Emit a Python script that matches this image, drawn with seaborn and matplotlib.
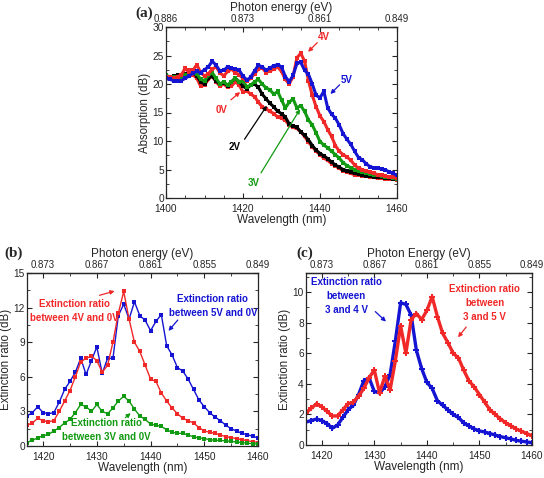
import numpy as np
import pandas as pd
import matplotlib
matplotlib.use("Agg")
import matplotlib.pyplot as plt
from matplotlib.ticker import MultipleLocator
import seaborn as sns

# ---------------- data ----------------
# (a) absorption spectra, 1400-1460 nm, 1 nm steps
wl_a = list(range(1400, 1461))
abs_0v = [21.0, 20.8, 21.0, 21.2, 21.0, 21.2, 22.4, 21.6, 21.0, 19.6,
          19.8, 20.8, 21.4, 20.4, 19.6, 20.0, 19.4, 19.6, 20.4, 19.8,
          18.6, 18.8, 18.2, 17.8, 16.8, 16.0, 15.6, 15.2, 14.8, 14.2,
          14.0, 13.6, 12.8, 12.4, 12.2, 11.6, 10.8, 9.8, 9.0, 8.2,
          7.6, 7.0, 6.6, 6.0, 5.6, 5.2, 4.8, 4.5, 4.3, 4.1,
          4.0, 3.9, 3.8, 3.7, 3.6, 3.5, 3.5, 3.4, 3.3, 3.3, 3.2]
abs_2v = [21.0, 21.2, 21.4, 21.5, 21.4, 21.8, 22.0, 22.0, 21.4, 20.4,
          20.0, 21.0, 21.4, 20.5, 20.0, 20.2, 19.7, 20.4, 21.0, 20.4,
          19.6, 19.2, 19.8, 20.0, 19.4, 18.2, 17.4, 16.6, 16.0, 15.2,
          14.8, 14.2, 13.0, 12.6, 12.4, 11.6, 11.0, 10.2, 9.2, 8.4,
          7.8, 7.4, 6.9, 6.3, 5.8, 5.4, 5.0, 4.8, 4.5, 4.3,
          4.2, 4.0, 3.9, 3.8, 3.7, 3.7, 3.6, 3.5, 3.5, 3.4, 3.4]
abs_3v = [21.5, 21.3, 21.2, 21.0, 21.2, 21.5, 21.8, 22.2, 21.8, 20.8,
          20.6, 21.5, 22.0, 21.0, 20.0, 20.4, 19.8, 20.4, 21.0, 20.4,
          20.6, 19.5, 19.8, 20.4, 20.8, 20.0, 19.3, 19.0, 18.2, 18.7,
          17.2, 15.8, 16.8, 17.4, 15.8, 16.2, 15.2, 13.7, 12.8, 11.4,
          9.9, 9.3, 8.8, 8.2, 7.6, 7.0, 6.2, 5.7, 5.3, 5.0,
          4.8, 4.6, 4.4, 4.2, 4.1, 4.0, 3.8, 3.7, 3.6, 3.5, 3.4]
abs_4v = [21.3, 21.2, 21.0, 21.3, 21.6, 22.8, 22.0, 22.4, 23.4, 22.0,
          21.4, 21.8, 22.6, 23.0, 22.0, 21.4, 22.2, 22.6, 22.0, 21.6,
          21.0, 20.5, 21.0, 21.8, 22.6, 22.8, 22.0, 22.3, 22.6, 23.0,
          22.2, 20.8, 20.0, 21.3, 24.6, 25.4, 24.0, 20.6, 18.0, 16.0,
          14.4, 13.4, 12.0, 10.8, 9.2, 8.2, 7.6, 7.2, 6.6, 5.8,
          5.2, 5.0, 4.7, 4.5, 4.3, 4.1, 4.0, 3.8, 3.7, 3.6, 3.5]
abs_5v = [21.0, 20.8, 20.6, 20.5, 20.6, 21.0, 21.4, 21.9, 22.2, 22.0,
          22.5, 23.0, 24.0, 23.3, 22.3, 22.4, 23.0, 22.8, 22.6, 22.4,
          21.4, 20.7, 21.2, 22.3, 23.3, 23.0, 22.4, 22.8, 23.2, 23.4,
          23.0, 21.3, 20.4, 21.5, 23.6, 23.8, 22.4, 21.7, 20.0, 18.0,
          17.6, 18.7, 15.8, 14.7, 14.0, 12.8, 11.3, 10.3, 9.4, 8.2,
          7.1, 6.7, 6.0, 5.5, 5.3, 5.2, 5.1, 4.9, 4.6, 4.3, 4.0]

# (b) and (c) extinction ratios, 1417-1460 nm, 1 nm steps
wl_bc = list(range(1417, 1461))
er_5v0v = [2.6, 2.9, 3.4, 2.9, 2.8, 2.9, 3.8, 4.9, 5.6, 6.4,
           7.6, 6.2, 7.4, 8.6, 6.3, 7.6, 7.6, 11.3, 12.3, 11.0,
           12.5, 11.3, 10.9, 10.0, 10.8, 11.4, 8.7, 7.9, 6.8, 6.5,
           5.8, 4.9, 4.0, 3.4, 2.9, 2.5, 2.2, 1.8, 1.5, 1.3,
           1.1, 0.98, 0.85, 0.7]
er_4v0v = [1.8, 2.0, 2.4, 2.2, 2.1, 2.2, 3.0, 3.9, 4.8, 6.0,
           7.3, 7.6, 7.8, 7.4, 6.4, 7.0, 9.0, 11.5, 13.4, 11.0,
           9.0, 8.2, 7.0, 5.8, 5.6, 4.6, 3.9, 3.3, 2.8, 2.4,
           2.2, 2.0, 1.6, 1.3, 1.2, 1.1, 0.95, 0.82, 0.72, 0.65,
           0.55, 0.45, 0.38, 0.3]
er_3v0v = [0.3, 0.5, 0.7, 0.9, 1.0, 1.3, 1.6, 2.0, 2.3, 2.9,
           3.6, 3.4, 3.0, 3.6, 3.0, 2.8, 3.3, 3.9, 4.3, 3.9,
           3.2, 2.6, 2.3, 1.9, 1.8, 1.7, 1.4, 1.2, 1.1, 1.1,
           0.95, 0.8, 0.7, 0.65, 0.55, 0.5, 0.48, 0.45, 0.4, 0.35,
           0.3, 0.25, 0.2, 0.17]
er_3v4v = [1.5, 1.6, 1.7, 1.6, 1.4, 1.1, 1.3, 1.8, 2.3, 2.6,
           3.3, 4.2, 4.4, 3.5, 3.4, 3.8, 4.6, 6.8, 9.3, 9.2,
           8.5, 6.2, 5.0, 4.1, 3.7, 2.9, 2.6, 2.3, 2.0, 1.8,
           1.45, 1.25, 1.05, 0.92, 0.85, 0.75, 0.65, 0.55, 0.47, 0.4,
           0.3, 0.25, 0.2, 0.15]
er_3v5v = [2.1, 2.4, 2.7, 2.5, 2.2, 1.9, 1.9, 2.3, 2.7, 2.8,
           3.2, 3.7, 4.4, 4.9, 3.4, 4.5, 3.6, 5.5, 7.8, 6.0,
           8.2, 8.6, 8.2, 8.8, 9.7, 8.4, 7.3, 6.7, 6.0, 5.7,
           4.9, 4.2, 3.8, 3.3, 2.8, 2.3, 2.0, 1.7, 1.45, 1.25,
           1.05, 0.9, 0.75, 0.6]

# photon energy tick labels for the top axes
top_wl_a = [1400, 1420, 1440, 1460]
top_lab_a = ["0.886", "0.873", "0.861", "0.849"]
top_wl_bc = [1420, 1430, 1440, 1450, 1460]
top_lab_bc = ["0.873", "0.867", "0.861", "0.855", "0.849"]

RED = "#f02828"
BLUE = "#1414d2"
GREEN = "#129a12"
BLACK = "#000000"

sns.set_style("ticks")
plt.rcParams["font.family"] = ["Liberation Sans", "DejaVu Sans"]
plt.rcParams["xtick.direction"] = "in"
plt.rcParams["ytick.direction"] = "in"
plt.rcParams["xtick.major.size"] = 3.5
plt.rcParams["ytick.major.size"] = 3.5
plt.rcParams["xtick.minor.size"] = 2
plt.rcParams["ytick.minor.size"] = 2
plt.rcParams["axes.linewidth"] = 0.9

W, H = 544, 478
fig = plt.figure(figsize=(W / 100, H / 100), dpi=100)


def px_axes(left, top, right, bottom):
    return fig.add_axes([left / W, 1 - bottom / H, (right - left) / W, (bottom - top) / H])


def style_axes(ax, top_pos, top_lab, top_title, xmin, xmax, ymax, ymajor, xminor, ylabel):
    ax.set_xlim(xmin, xmax)
    ax.set_ylim(0, ymax)
    ax.yaxis.set_major_locator(MultipleLocator(ymajor))
    ax.yaxis.set_minor_locator(MultipleLocator(ymajor / 2))
    ax.xaxis.set_minor_locator(MultipleLocator(xminor))
    ax.tick_params(which="both", right=True, labelsize=7.3)
    ax.tick_params(axis="x", pad=4)
    ax.tick_params(axis="y", pad=1.5)
    ax.set_xlabel("Wavelength (nm)", fontsize=8.5, labelpad=0.5)
    ax.set_ylabel(ylabel, fontsize=8.3, labelpad=1)
    sec = ax.secondary_xaxis("top")
    sec.set_xticks(top_pos)
    sec.set_xticklabels(top_lab)
    sec.xaxis.set_minor_locator(MultipleLocator(xminor))
    sec.tick_params(which="both", direction="in", labelsize=7.0, pad=2.5)
    sec.set_xlabel(top_title, fontsize=8.5, labelpad=1.5)
    for s in ax.spines.values():
        s.set_visible(True)


def draw(ax, x, y, color, lw, marker, ms):
    df = pd.DataFrame({"wl": x, "val": y})
    sns.lineplot(data=df, x="wl", y="val", ax=ax, color=color, lw=lw,
                 marker=marker, markersize=ms, markeredgewidth=0, legend=False)


def note(ax, text, color, txy, tail, head, fs=7):
    ax.text(txy[0], txy[1], text, color=color, fontsize=fs, fontweight="bold",
            ha="center", va="center", linespacing=1.5)
    ax.annotate("", xy=head, xytext=tail,
                arrowprops=dict(arrowstyle="-|>", color=color, lw=0.9, mutation_scale=6))


# ---------------- (a) ----------------
ax_a = px_axes(166, 27, 397, 198)
for ys, col in [(abs_0v, RED), (abs_2v, BLACK), (abs_3v, GREEN), (abs_4v, RED), (abs_5v, BLUE)]:
    draw(ax_a, wl_a, ys, col, 2.2, "s", 2.8)
style_axes(ax_a, top_wl_a, top_lab_a, "Photon energy (eV)", 1400, 1460, 30, 5, 5, "Absorption (dB)")
ax_a.xaxis.set_major_locator(MultipleLocator(20))
note(ax_a, "4V", RED, (1441.0, 28.2), (1439.8, 27.6), (1436.4, 25.3))
note(ax_a, "5V", BLUE, (1447.0, 20.7), (1445.6, 20.2), (1442.2, 17.9))
note(ax_a, "0V", RED, (1414.5, 15.4), (1416.3, 16.9), (1419.8, 18.9))
note(ax_a, "2V", BLACK, (1417.9, 9.0), (1420.0, 9.9), (1426.6, 16.6))
note(ax_a, "3V", GREEN, (1422.7, 2.7), (1424.3, 4.0), (1435.2, 16.0))

# ---------------- (b) ----------------
ax_b = px_axes(27, 273, 258, 446)
for ys, col in [(er_5v0v, BLUE), (er_4v0v, RED), (er_3v0v, GREEN)]:
    draw(ax_b, wl_bc, ys, col, 1.0, "s", 2.4)
style_axes(ax_b, top_wl_bc, top_lab_bc, "Photon energy (eV)", 1417, 1460, 15, 3, 5, "Extinction ratio (dB)")
ax_b.xaxis.set_major_locator(MultipleLocator(10))
note(ax_b, "Extinction ratio\nbetween 4V and 0V", RED, (1425.8, 11.7), (1430.0, 13.0), (1433.8, 13.5))
note(ax_b, "Extinction ratio\nbetween 5V and 0V", BLUE, (1451.6, 12.1), (1445.4, 11.1), (1443.0, 9.8))
note(ax_b, "Extinction ratio\nbetween 3V and 0V", GREEN, (1431.8, 1.35), (1434.9, 2.3), (1436.7, 3.0))

# ---------------- (c) ----------------
ax_c = px_axes(306, 273, 532, 445)
for ys, col in [(er_3v4v, BLUE), (er_3v5v, RED)]:
    draw(ax_c, wl_bc, ys, col, 2.4, "P", 5.0)
style_axes(ax_c, top_wl_bc, top_lab_bc, "Photon Energy (eV)", 1417, 1460, 11.25, 2, 5, "Extinction ratio (dB)")
ax_c.xaxis.set_major_locator(MultipleLocator(10))
note(ax_c, "Extinction ratio\nbetween\n3 and 4 V", BLUE, (1424.7, 9.75), (1429.8, 8.85), (1432.6, 7.95))
note(ax_c, "Extinction ratio\nbetween\n3 and 5 V", RED, (1451.0, 9.28), (1447.8, 7.86), (1445.6, 6.9))

# panel letters
for lab, x, y in [("(a)", 144, 13), ("(b)", 14, 253), ("(c)", 305, 253)]:
    fig.text(x / W, 1 - y / H, lab, fontsize=11, fontweight="bold",
             family=["Liberation Serif", "DejaVu Serif"], ha="center", va="center")

fig.savefig("out.png", dpi=100)
